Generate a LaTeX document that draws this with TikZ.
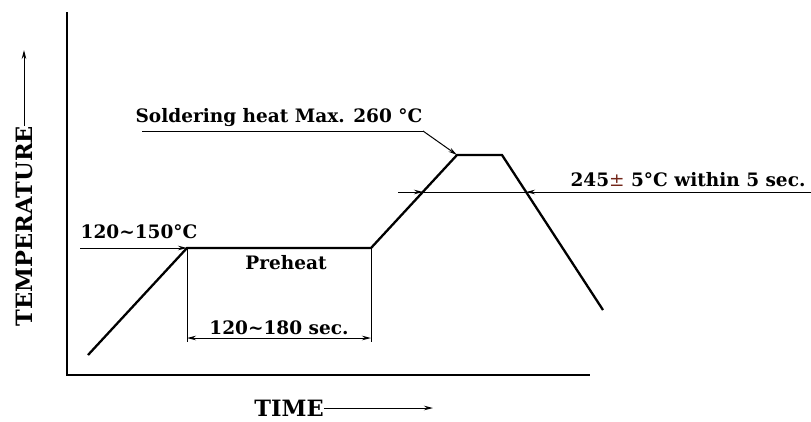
\documentclass[tikz,border=0pt]{standalone}
\usepackage{fontspec}
\setmainfont{DejaVu Serif}
\usetikzlibrary{arrows.meta}
\begin{document}
\begin{tikzpicture}[x=1pt,y=-1pt,
  axis/.style={line width=2.8pt},
  prof/.style={line width=2.3pt, line join=miter},
  lead/.style={line width=1pt},
  arr/.style={-{Stealth[length=9pt,width=4.5pt]}},
  lbl/.style={font=\fontsize{18.5}{20}\selectfont\bfseries, inner sep=0pt},
  big/.style={font=\fontsize{22.5}{26}\selectfont\bfseries, inner sep=0pt}]
\useasboundingbox (0,0) rectangle (811,421);
% axes
\coordinate (Ytop) at (67,12);
\coordinate (O) at (67,375);
\coordinate (Xend) at (590,375);
\draw[axis] (Ytop) -- (O) -- (Xend);
% profile
\coordinate (p0) at (88,355);
\coordinate (p1) at (187,248);
\coordinate (p2) at (371,248);
\coordinate (p3) at (457,155);
\coordinate (p4) at (502,155);
\coordinate (p5) at (603,310);
\draw[prof] (p0) -- (p1) -- (p2) -- (p3) -- (p4) -- (p5);
% preheat temp label
\coordinate (l1) at (80,248);
\draw[lead,arr] (l1) -- (p1);
\node[lbl] (t1) at (139,232) {120\textasciitilde150°C};
\node[lbl] (t3) at (286,263) {Preheat};
% preheat duration
\coordinate (v1) at (187,342);
\coordinate (v2) at (371,342);
\draw[lead] (p1) -- (v1);
\draw[lead] (p2) -- (v2);
\coordinate (d1) at (187,338);
\coordinate (d2) at (371,338);
\draw[lead,{Stealth[length=9pt,width=4.5pt]}-{Stealth[length=9pt,width=4.5pt]}] (d1) -- (d2);
\node[lbl] (t4) at (279,328) {120\textasciitilde180 sec.};
% peak label
\node[lbl] (t2) at (279,118) {Soldering heat Max. 260 °C};
\coordinate (u1) at (142,131);
\coordinate (u2) at (423,131);
\draw[lead] (u1) -- (u2);
\draw[lead,arr] (u2) -- (p3);
% 245 line
\coordinate (a1) at (398,192);
\coordinate (a2) at (811,192);
\coordinate (i1) at (423,192);
\coordinate (i2) at (526,192);
\draw[lead] (a1) -- (a2);
\draw[lead,arr] (a1) -- (i1);
\draw[lead,arr] (a2) -- (i2);
\node[lbl] (t5) at (688,180) {245{\color[rgb]{0.45,0.15,0.1}\mdseries ±} 5°C within 5 sec.};
% axis labels
\node[big,rotate=90] (ty) at (24,226) {TEMPERATURE};
\coordinate (yarr) at (24,50);
\draw[lead,arr] (ty.east) -- (yarr);
\node[big] (tx) at (289,408) {TIME};
\coordinate (xarr) at (433,408);
\draw[lead,arr] (tx.east) -- (xarr);
\end{tikzpicture}
\end{document}
